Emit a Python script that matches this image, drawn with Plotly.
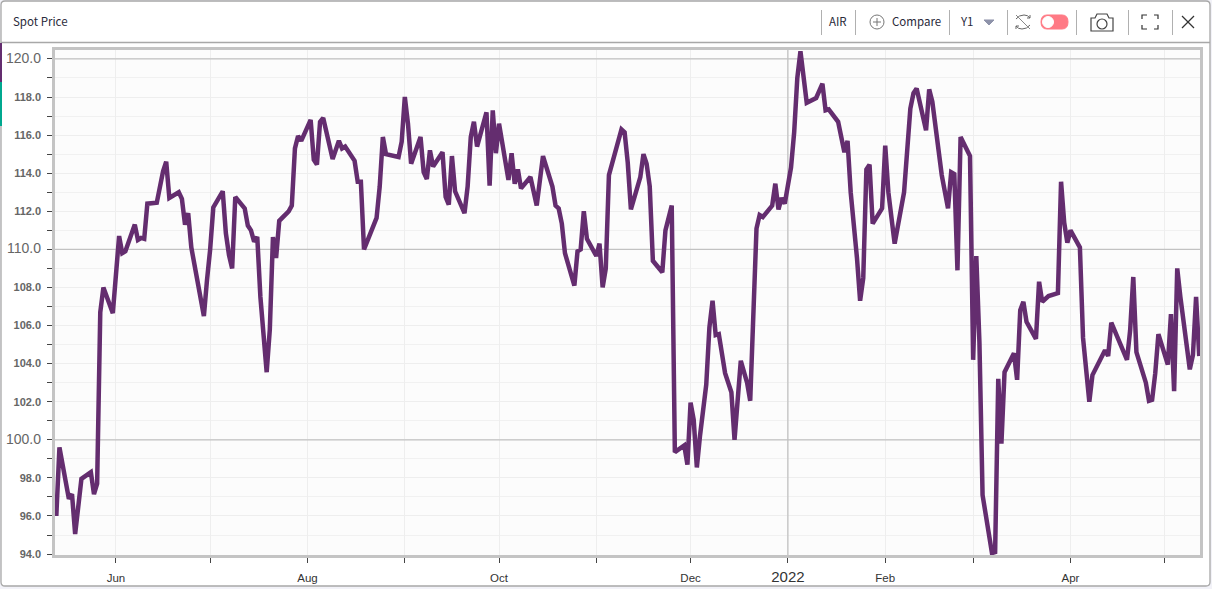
import pandas as pd
import plotly.graph_objects as go

# ---- data ----
title_text = "Spot Price"
days_from_jun1 = [-19,-18,-15,-14,-13,-11,-8,-7,-6,-5,-4,-1,1,2,3,6,7,8,9,10,13,15,16,17,20,21,22,23,24,28,29,30,31,34,35,36,37,38,41,42,43,44,45,46,48,49,50,51,52,55,56,57,58,59,62,63,64,65,66,69,71,72,73,76,77,78,79,83,84,85,86,90,91,92,93,94,97,98,99,100,101,104,105,106,107,108,111,112,113,114,115,118,119,120,121,122,125,126,127,128,129,132,134,136,139,140,141,142,143,146,147,148,149,150,153,154,155,156,157,161,162,163,164,167,168,169,170,171,174,175,177,178,181,182,183,184,185,186,188,189,190,191,192,194,196,197,199,201,202,204,205,206,209,210,211,212,213,215,216,217,218,219,220,223,225,226,227,230,232,233,234,236,237,238,239,240,241,244,245,246,248,251,253,254,255,258,259,260,262,263,265,266,267,268,269,272,273,274,275,276,279,280,281,282,283,286,287,288,289,290,293,294,295,297,300,301,302,303,304,307,308,310,311,314,315,316,317,322,323,324,325,328,329,330,331,332,335,336,337,338,339,342,343,344,345]
spot_price = [96.0,99.6,96.9,97.15,95.05,97.95,98.3,97.15,97.7,106.7,108.0,106.65,110.7,109.8,109.9,111.3,110.5,110.6,110.55,112.4,112.45,114.1,114.6,112.7,113.0,112.65,111.3,111.9,110.1,106.5,108.4,110.0,112.2,113.05,110.85,109.7,109.0,112.75,112.15,111.25,111.0,110.4,110.65,107.5,103.55,105.8,110.65,109.55,111.5,112.0,112.3,115.3,115.95,115.7,116.8,114.7,114.45,116.7,116.9,114.75,115.7,115.3,115.4,114.65,113.55,113.55,110.0,111.65,113.3,115.9,115.0,114.85,115.65,118.0,116.6,114.5,115.9,114.05,113.7,115.2,114.35,115.1,112.75,112.35,114.9,113.05,111.9,113.3,115.9,116.7,115.4,117.2,113.35,117.3,115.05,116.6,113.65,115.05,113.45,114.2,113.2,113.8,112.3,114.9,113.3,112.3,112.15,111.35,109.8,108.1,109.9,110.0,112.0,110.55,109.65,110.3,108.0,109.0,113.9,116.3,116.15,114.55,112.1,113.8,115.0,114.5,113.3,109.4,108.8,111.0,112.3,99.35,99.7,98.7,101.95,101.05,98.55,100.2,102.9,105.9,107.3,105.5,105.55,103.5,102.5,100.0,104.15,103.0,102.05,111.1,111.8,111.7,112.3,113.45,112.1,112.7,112.4,114.3,116.15,119.0,120.4,119.0,117.7,117.95,118.7,117.3,117.35,116.7,115.1,115.7,113.0,109.55,107.3,108.5,114.2,114.45,111.35,112.15,115.45,113.0,110.3,113.0,117.4,118.2,118.45,116.25,118.4,117.75,115.1,113.9,112.15,114.05,113.95,108.9,115.9,114.9,104.2,109.65,105.1,97.1,94.05,94.1,103.2,99.8,103.55,104.55,103.15,106.8,107.25,106.2,105.3,108.3,107.25,107.55,107.7,113.55,111.4,110.35,111.0,110.1,105.35,102.0,103.4,104.45,104.7,104.4,106.15,104.2,105.75,108.55,104.6,103.0,102.05,102.1,103.5,105.55,103.95,106.6,102.55,109.0,107.5,103.7,104.45,107.5,104.4]
month_ticks = ["2021-06-01","2021-07-01","2021-08-01","2021-09-01","2021-10-01","2021-11-01","2021-12-01","2022-01-01","2022-02-01","2022-03-01","2022-04-01","2022-05-01"]
month_labels = ["Jun","","Aug","","Oct","","Dec","<span style='font-size:15px'>2022</span>","Feb","","Apr",""]
price_ticks = [94,96,98,100,102,104,106,108,110,112,114,116,118,120]
price_labels = ["<span style='font-size:14px'>%.1f</span>" % v if v % 10 == 0 else "<b>%.1f</b>" % v for v in price_ticks]
strong_levels = [100,110,120]
x_range = ["2021-05-12 14:00", "2022-05-12 06:00"]
y_range = [93.95, 120.47]
year_start = "2022-01-01"

dates = pd.Timestamp("2021-06-01") + pd.to_timedelta(days_from_jun1, unit="D")

# ---- page geometry ----
W, H = 1212, 589
L, R, T, B = 55, 1200, 50, 555
X = lambda p: (p - L) / (R - L)
Y = lambda p: (B - p) / (B - T)
UI = "Noto Sans CJK KR, Noto Sans, sans-serif"
INK = "#3a3a4a"
SEP = "#b0b0b0"

def pth(*cmds):
    out = []
    for c in cmds:
        if isinstance(c, str):
            out.append(c)
        else:
            out.append("%.5f,%.5f" % (X(c[0]), Y(c[1])))
    return " ".join(out)

def line(x0, y0, x1, y1, color=SEP, width=1):
    return dict(type="line", xref="paper", yref="paper", x0=X(x0), x1=X(x1), y0=Y(y0), y1=Y(y1),
                line=dict(color=color, width=width))

def rect(x0, y0, x1, y1, fill, lc=None, lw=0, layer="above"):
    return dict(type="rect", xref="paper", yref="paper", x0=X(x0), x1=X(x1), y0=Y(y0), y1=Y(y1),
                fillcolor=fill, line=dict(color=lc or fill, width=lw), layer=layer)

def circ(cx, cy, r, fill="rgba(0,0,0,0)", lc=INK, lw=1):
    return dict(type="circle", xref="paper", yref="paper", x0=X(cx-r), x1=X(cx+r), y0=Y(cy+r), y1=Y(cy-r),
                fillcolor=fill, line=dict(color=lc, width=lw))

def path(d, lc=INK, lw=1, fill="rgba(0,0,0,0)", layer="above"):
    return dict(type="path", xref="paper", yref="paper", path=d, fillcolor=fill,
                line=dict(color=lc, width=lw), layer=layer)

shapes = []
# card and plot background
shapes.append(path(pth("M",(5,1),"L",(1206,1),"Q",(1210,1),(1210,5),"L",(1210,582),"Q",(1210,586),(1206,586),
                       "L",(5,586),"Q",(1,586),(1,582),"L",(1,5),"Q",(1,1),(5,1),"Z"),
                   lc="#a8a8a8", lw=1.3, fill="#ffffff", layer="below"))
shapes.append(rect(L, T, R, B, "#fcfcfc", layer="below"))
# header rule and left accents
shapes.append(line(1, 42.5, 1210, 42.5, "#a8a8a8", 1.3))
shapes.append(rect(0, 43, 2, 82, "#642d6f"))
shapes.append(rect(0, 82, 2, 126, "#00a88f"))
# header separators
for sx in [821.5, 855.5, 949.5, 1007.5, 1076.5, 1128.5, 1172.5]:
    shapes.append(line(sx, 10, sx, 35))
# compare icon
shapes.append(circ(877, 22, 7, lc="#777777"))
shapes.append(line(873, 22, 881, 22, "#777777"))
shapes.append(line(877, 18, 877, 26, "#777777"))
# dropdown triangle
shapes.append(path(pth("M",(984,20),"L",(994,20),"L",(989,25),"Z"), lc="#8e93aa", fill="#8e93aa"))
# sync icon
shapes.append(path(pth("M",(1016,19),"Q",(1019,15),(1024,15),"Q",(1028,15),(1030,18)), lc="#666666"))
shapes.append(path(pth("M",(1030,25),"Q",(1027,29),(1022,29),"Q",(1018,29),(1016,26)), lc="#666666"))
shapes.append(path(pth("M",(1027,18),"L",(1030,18),"L",(1030,15)), lc="#666666"))
shapes.append(path(pth("M",(1019,26),"L",(1016,26),"L",(1016,29)), lc="#666666"))
shapes.append(line(1016, 15, 1030, 29, "#888888"))
# toggle
shapes.append(path(pth("M",(1047,15),"L",(1062,15),"Q",(1068,15),(1068,22),"Q",(1068,29),(1062,29),
                       "L",(1047,29),"Q",(1041,29),(1041,22),"Q",(1041,15),(1047,15),"Z"),
                   lc="#ff7a85", fill="#ff7a85"))
shapes.append(circ(1048, 22, 5.5, fill="#ffffff", lc="#ffffff"))
# camera
shapes.append(path(pth("M",(1091,18),"L",(1095,18),"L",(1097,14),"L",(1107,14),"L",(1109,18),"L",(1113,18),
                       "L",(1113,31),"L",(1091,31),"Z"), lc="#444444", lw=1.2))
shapes.append(circ(1102, 24, 5, lc="#444444", lw=1.2))
# fullscreen corners
for a, b, c, d, e, f in [(1142,19,1142,15,1147,15),(1154,15,1158,15,1158,19),
                         (1142,25,1142,29,1147,29),(1154,29,1158,29,1158,25)]:
    shapes.append(path(pth("M",(a,b),"L",(c,d),"L",(e,f)), lc="#333333", lw=1.2))
# close
shapes.append(line(1182, 16, 1194, 28, "#333333", 1.2))
shapes.append(line(1194, 16, 1182, 28, "#333333", 1.2))

def label(text, px, py, size=11.5, anchor="left"):
    return dict(text=text, x=X(px), y=Y(py), xref="paper", yref="paper", showarrow=False,
                xanchor=anchor, yanchor="middle", font=dict(family=UI, size=size, color="#2a2a3a"),
                borderpad=0, borderwidth=0)

annotations = [
    label(title_text, 13, 21),
    label("AIR", 829, 21),
    label("Compare", 892, 21),
    label("Y1", 960, 21),
]

fig = go.Figure()
strong = dict(color="#c2c2c2", width=1.3)
for v in strong_levels:
    fig.add_trace(go.Scatter(x=x_range, y=[v, v], mode="lines", line=strong, hoverinfo="skip"))
fig.add_trace(go.Scatter(x=[year_start, year_start], y=y_range, mode="lines", line=strong, hoverinfo="skip"))
fig.add_trace(go.Scatter(x=dates, y=spot_price, mode="lines",
                         line=dict(color="#642d6f", width=4.5), hoverinfo="skip"))
x_font = dict(family="Liberation Sans, Arial, sans-serif", size=11.5, color="#333333")
y_font = dict(family="Liberation Sans, Arial, sans-serif", size=11, color="#666666")
fig.update_layout(
    width=W, height=H, autosize=False, showlegend=False,
    margin=dict(l=L, r=W-R, t=T, b=H-B, pad=0),
    paper_bgcolor="#f2f2f8", plot_bgcolor="rgba(0,0,0,0)",
    shapes=shapes, annotations=annotations,
    xaxis=dict(type="date", range=x_range, automargin=False,
               tickmode="array", tickvals=month_ticks, ticktext=month_labels, tickangle=0,
               ticks="outside", ticklen=5, tickcolor="#444444", tickfont=x_font, ticklabelstandoff=5,
               showgrid=True, gridcolor="#eeeeee", gridwidth=1, zeroline=False,
               showline=True, mirror=True, linecolor="#c4c4c4", linewidth=2.5),
    yaxis=dict(range=y_range, automargin=False, tickmode="array", tickvals=price_ticks, ticktext=price_labels,
               ticks="outside", ticklen=5, tickcolor="#444444", tickfont=y_font, ticklabelstandoff=4,
               showgrid=True, gridcolor="#eeeeee", gridwidth=1, zeroline=False,
               minor=dict(dtick=1, tick0=94, ticks="outside", ticklen=5, tickcolor="#444444",
                          showgrid=True, gridcolor="#f1f1f1", gridwidth=1),
               showline=True, mirror=True, linecolor="#c4c4c4", linewidth=2.5),
)
fig.write_html("out.html", config=dict(displayModeBar=False),
               post_script="document.body.style.margin='0';document.body.style.overflow='hidden';")
